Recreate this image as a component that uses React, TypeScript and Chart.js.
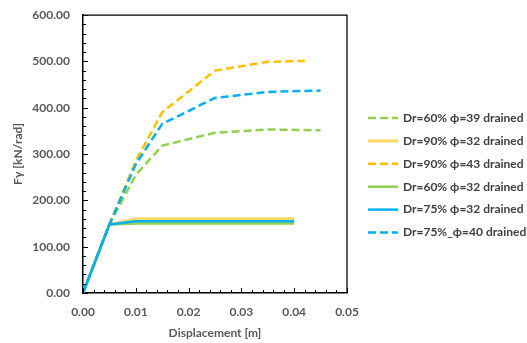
import React, { useEffect, useRef } from "react";
import { Chart, registerables } from "chart.js";

Chart.register(...registerables);

const xFull = [0, 0.005, 0.01, 0.015, 0.025, 0.035, 0.045];
const xYellowDashed = [0, 0.005, 0.01, 0.015, 0.025, 0.035, 0.042];
const xSolid = [0, 0.005, 0.01, 0.02, 0.03, 0.04];

const dr60phi39 = [0, 148, 255, 318, 346, 353, 351];
const dr90phi32 = [0, 148, 160, 160, 160, 160];
const dr90phi43 = [0, 148, 285, 390, 480, 499, 501];
const dr60phi32 = [0, 148, 150, 150, 150, 150];
const dr75phi32 = [0, 148, 155, 155, 155, 155];
const dr75phi40 = [0, 148, 278, 365, 421, 434, 437];

const seriesLabels = [
  "Dr=60% \u03d5=39 drained",
  "Dr=90% \u03d5=32 drained",
  "Dr=90% \u03d5=43 drained",
  "Dr=60% \u03d5=32 drained",
  "Dr=75% \u03d5=32 drained",
  "Dr=75%_\u03d5=40 drained",
];

const xTitle = "Displacement [m]";
const yTitle = "F\u03b3 [kN/rad]";

const GREEN = "#92D050";
const YELLOW_LIGHT = "#FFD966";
const YELLOW = "#FFC000";
const BLUE = "#00B0F0";
const TICK_COLOR = "#595959";
const FONT = "Lato, 'Open Sans', sans-serif";

const pts = (xs: number[], ys: number[]) => xs.map((x, i) => ({ x, y: ys[i] }));

const customPlugin = {
  id: "custom",
  afterDraw(chart: any) {
    const ctx = chart.ctx;
    const area = chart.chartArea;
    const xs = chart.scales.x;
    const ys = chart.scales.y;
    ctx.save();
    ctx.strokeStyle = "#000";
    ctx.lineWidth = 1.25;
    // top & right border
    ctx.beginPath();
    ctx.moveTo(area.left, area.top);
    ctx.lineTo(area.right, area.top);
    ctx.lineTo(area.right, area.bottom);
    ctx.stroke();
    ctx.lineWidth = 1;
    // y ticks (inward)
    for (let v = 0; v <= 600; v += 20) {
      const y = Math.round(ys.getPixelForValue(v)) + 0.5;
      const len = v % 100 === 0 ? 5 : 3;
      ctx.beginPath();
      ctx.moveTo(area.left, y);
      ctx.lineTo(area.left + len, y);
      ctx.stroke();
    }
    for (let i = 0; i <= 25; i++) {
      const v = i * 0.002;
      const x = Math.round(xs.getPixelForValue(v)) + 0.5;
      const len = i % 5 === 0 ? 5 : 3;
      ctx.beginPath();
      ctx.moveTo(x, area.bottom);
      ctx.lineTo(x, area.bottom - len);
      ctx.stroke();
    }
    // titles
    ctx.fillStyle = TICK_COLOR;
    ctx.font = `bold 12px ${FONT}`;
    ctx.textAlign = "center";
    ctx.textBaseline = "middle";
    ctx.fillText(xTitle, (area.left + area.right) / 2, 333);
    ctx.save();
    ctx.translate(18, (area.top + area.bottom) / 2);
    ctx.rotate(-Math.PI / 2);
    ctx.fillText(yTitle, 0, 0);
    ctx.restore();
    // legend
    const ds = chart.data.datasets;
    const startY = 118;
    const step = 22.9;
    ctx.font = `bold 12px ${FONT}`;
    ctx.textAlign = "left";
    ctx.fillStyle = "#404040";
    ds.forEach((d: any, i: number) => {
      const y = startY + i * step;
      ctx.save();
      ctx.strokeStyle = d.borderColor;
      ctx.lineWidth = d.borderWidth;
      ctx.setLineDash(d.borderDash || []);
      ctx.beginPath();
      ctx.moveTo(368, y);
      ctx.lineTo(398, y);
      ctx.stroke();
      ctx.restore();
      ctx.fillText(d.label, 403, y);
    });
    ctx.restore();
  },
};

export default function App() {
  const ref = useRef<HTMLCanvasElement | null>(null);
  useEffect(() => {
    if (!ref.current) return;
    const dash = [8, 4];
    const mk = (label: string, data: any[], color: string, dashed: boolean, order: number, width = 2.5) => ({
      label,
      data,
      borderColor: color,
      backgroundColor: color,
      borderWidth: width,
      borderDash: dashed ? dash : [],
      pointRadius: 0,
      tension: 0,
      fill: false,
      order,
      borderJoinStyle: "round" as const,
    });
    const chart = new Chart(ref.current, {
      type: "line",
      data: {
        datasets: [
          mk(seriesLabels[0], pts(xFull, dr60phi39), GREEN, true, 5),
          mk(seriesLabels[1], pts(xSolid, dr90phi32), YELLOW_LIGHT, false, 4, 3),
          mk(seriesLabels[2], pts(xYellowDashed, dr90phi43), YELLOW, true, 2),
          mk(seriesLabels[3], pts(xSolid, dr60phi32), GREEN, false, 3),
          mk(seriesLabels[4], pts(xSolid, dr75phi32), BLUE, false, 0, 2.5),
          mk(seriesLabels[5], pts(xFull, dr75phi40), BLUE, true, 1),
        ],
      },
      options: {
        animation: false,
        responsive: true,
        maintainAspectRatio: false,
        layout: { padding: { left: 0, top: 15, right: 180, bottom: 0 } },
        plugins: { legend: { display: false }, tooltip: { enabled: false } },
        scales: {
          x: {
            type: "linear",
            min: 0,
            max: 0.05,
            grid: { display: false, drawTicks: false },
            border: { display: true, color: "#000", width: 1.5 },
            ticks: {
              stepSize: 0.01,
              padding: 12,
              color: TICK_COLOR,
              font: { family: FONT, size: 12, weight: "bold" },
              callback: (v: any) => Number(v).toFixed(2),
            },
            afterFit: (s: any) => {
              s.height = 50;
              s.paddingLeft = 0;
              s.paddingRight = 0;
            },
          },
          y: {
            type: "linear",
            min: 0,
            max: 600,
            grid: { display: false, drawTicks: false },
            border: { display: true, color: "#000", width: 1.5 },
            ticks: {
              stepSize: 100,
              padding: 13,
              color: TICK_COLOR,
              font: { family: FONT, size: 12, weight: "bold" },
              callback: (v: any) => Number(v).toFixed(2),
            },
            afterFit: (s: any) => {
              s.width = 83;
              s.paddingTop = 0;
              s.paddingBottom = 0;
            },
          },
        },
      },
      plugins: [customPlugin],
    });
    return () => chart.destroy();
  }, []);
  return (
    <div style={{ position: "fixed", left: 0, top: 0, width: 527, height: 343, background: "#fff" }}>
      <canvas ref={ref} />
    </div>
  );
}
